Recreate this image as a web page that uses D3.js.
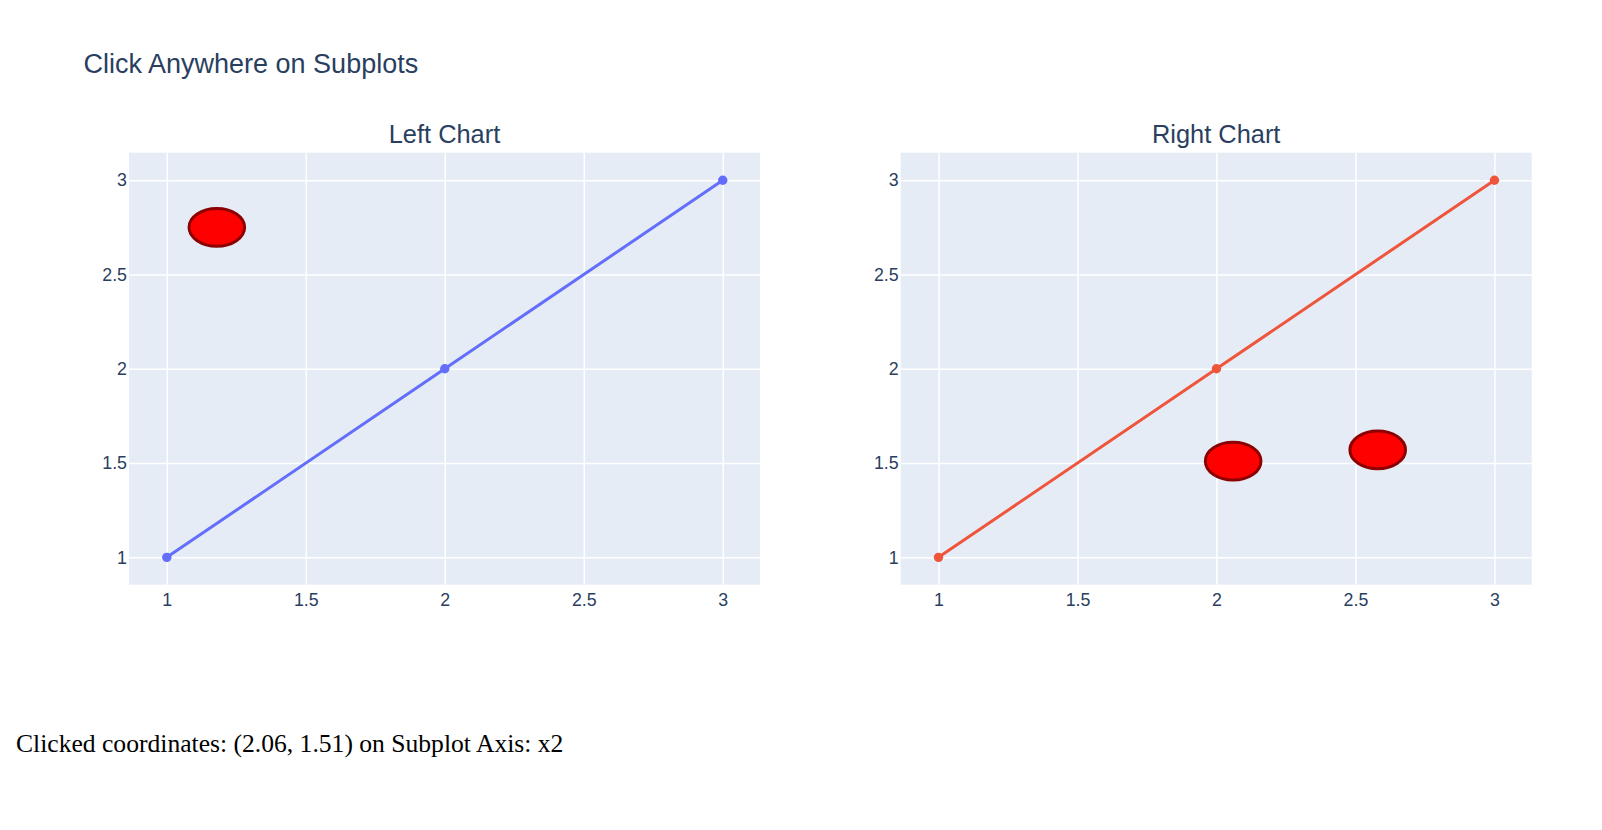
<!DOCTYPE html>
<html>
<head>
<meta charset="utf-8">
<script src="https://cdn.jsdelivr.net/npm/d3@7"></script>
<style>
  body { margin: 0; background: #fff; }
  .tick text { fill: #2a3f5f; font-family: "Liberation Sans", Arial, sans-serif; font-size: 17.8px; }
  .grid line { stroke: #fff; stroke-width: 1.5; }
</style>
</head>
<body>
<div id="chart"></div>
<script>
// data
const xValues = [1, 2, 3];
const leftY = [1, 2, 3];
const rightY = [1, 2, 3];
const tickValues = [1, 1.5, 2, 2.5, 3];
const leftClicksX = [1.18];
const leftClicksY = [2.75];
const rightClicksX = [2.06, 2.58];
const rightClicksY = [1.51, 1.57];
const clickRadius = 0.1;
const lastClick = "Clicked coordinates: (2.06, 1.51) on Subplot Axis: x2";

const width = 1602;
const height = 830;
const plotTop = 152.7, plotBottom = 584.7;
const panelWidth = 631;

const svg = d3.select('#chart')
    .append('svg')
        .attr('width', width)
        .attr('height', height);

// main title
svg.append('text')
    .attr('x', 83.5)
    .attr('y', 73)
    .attr('fill', '#2a3f5f')
    .style('font-family', '"Liberation Sans", Arial, sans-serif')
    .style('font-size', '27px')
    .text('Click Anywhere on Subplots');

function drawPanel(left, title, ys, color, clickX, clickY) {
    const xScale = d3.scaleLinear()
                        .domain([0.864, 3.134])
                        .range([left, left + panelWidth]);
    const yScale = d3.scaleLinear()
                        .domain([0.855, 3.146])
                        .range([plotBottom, plotTop]);

    // background
    svg.append('rect')
        .attr('x', left)
        .attr('y', plotTop)
        .attr('width', panelWidth)
        .attr('height', plotBottom - plotTop)
        .attr('fill', '#E5ECF6');

    // gridlines
    svg.append('g')
        .attr('class', 'grid')
        .attr('transform', `translate(0, ${plotBottom})`)
        .call(d3.axisBottom(xScale).tickValues(tickValues).tickSize(-(plotBottom - plotTop)).tickFormat(''))
        .call(g => g.select('.domain').remove());
    svg.append('g')
        .attr('class', 'grid')
        .attr('transform', `translate(${left}, 0)`)
        .call(d3.axisLeft(yScale).tickValues(tickValues).tickSize(-panelWidth).tickFormat(''))
        .call(g => g.select('.domain').remove());

    // tick labels
    svg.append('g')
        .attr('transform', `translate(0, ${plotBottom})`)
        .call(d3.axisBottom(xScale).tickValues(tickValues).tickSize(0).tickPadding(9).tickFormat(d => String(d)))
        .call(g => g.select('.domain').remove());
    svg.append('g')
        .attr('transform', `translate(${left}, 0)`)
        .call(d3.axisLeft(yScale).tickValues(tickValues).tickSize(0).tickPadding(2).tickFormat(d => String(d)))
        .call(g => g.select('.domain').remove());

    // subplot title
    svg.append('text')
        .attr('x', left + panelWidth / 2)
        .attr('y', 143.3)
        .attr('text-anchor', 'middle')
        .attr('fill', '#2a3f5f')
        .style('font-family', '"Liberation Sans", Arial, sans-serif')
        .style('font-size', '25.4px')
        .text(title);

    // line + markers
    const points = xValues.map((x, i) => [x, ys[i]]);
    const line = d3.line()
                    .x(d => xScale(d[0]))
                    .y(d => yScale(d[1]));
    svg.append('path')
        .datum(points)
        .attr('d', line)
        .attr('fill', 'none')
        .attr('stroke', color)
        .attr('stroke-width', 3);
    svg.append('g')
        .selectAll('circle')
        .data(points)
        .enter()
            .append('circle')
                .attr('cx', d => xScale(d[0]))
                .attr('cy', d => yScale(d[1]))
                .attr('r', 4.7)
                .attr('fill', color);

    // click shapes
    svg.append('g')
        .selectAll('ellipse')
        .data(clickX.map((x, i) => [x, clickY[i]]))
        .enter()
            .append('ellipse')
                .attr('cx', d => xScale(d[0]))
                .attr('cy', d => yScale(d[1]))
                .attr('rx', d => xScale(d[0] + clickRadius) - xScale(d[0]))
                .attr('ry', d => yScale(d[1] - clickRadius) - yScale(d[1]))
                .attr('fill', 'red')
                .attr('stroke', 'darkred')
                .attr('stroke-width', 3);
}

drawPanel(129, 'Left Chart', leftY, '#636efa', leftClicksX, leftClicksY);
drawPanel(900.7, 'Right Chart', rightY, '#EF553B', rightClicksX, rightClicksY);

// click output
svg.append('text')
    .attr('x', 16)
    .attr('y', 752)
    .attr('fill', '#000')
    .style('font-family', '"Liberation Serif", "Times New Roman", serif')
    .style('font-size', '25.6px')
    .text(lastClick);
</script>
</body>
</html>
